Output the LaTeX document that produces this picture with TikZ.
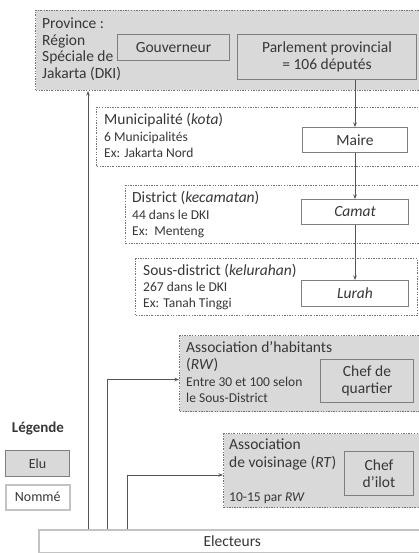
\documentclass[tikz,border=0pt]{standalone}
\usepackage{fontspec}
\setmainfont{Carlito}
\usetikzlibrary{arrows.meta}
\definecolor{elugray}{RGB}{217,217,217}
\definecolor{bordgray}{RGB}{127,127,127}
\definecolor{dotgray}{RGB}{115,115,115}
\definecolor{palegray}{RGB}{195,195,195}
\definecolor{flechegray}{RGB}{85,85,85}
\definecolor{txtgray}{RGB}{55,55,55}
\tikzset{
  zone/.style={draw=dotgray, line width=1pt, dash pattern=on 1.8pt off 1.4pt on 0.7pt off 1.4pt,
    anchor=north west, inner sep=0pt},
  elu/.style={draw=bordgray, fill=elugray, line width=1pt, anchor=north west, inner sep=0pt,
    align=center, font=\fontsize{15.5}{17}\selectfont},
  nomme/.style={draw=bordgray, fill=white, line width=1pt, anchor=north west, inner sep=0pt,
    align=center, font=\fontsize{15.5}{17}\selectfont},
  titre/.style={anchor=base west, inner sep=0pt, font=\fontsize{15.5}{17}\selectfont},
  detail/.style={anchor=base west, inner sep=0pt, font=\fontsize{13.5}{16}\selectfont},
  fleche/.style={draw=flechegray, line width=0.8pt, -{Stealth[length=4.5pt,width=3.5pt]}}
}
\begin{document}
\begin{tikzpicture}[x=1pt, y=-1pt, text=txtgray]
\useasboundingbox (0,0) rectangle (419,553);
%% province
\node[zone, fill=elugray, minimum width=390pt, minimum height=80pt] (prov) at (35,10) {};
\node[titre] (prov1) at (42,29) {Province :};
\node[titre] (prov2) at (42,45.5) {Région};
\node[titre] (prov3) at (42,62) {Spéciale de};
\node[titre] (prov4) at (42,78.5) {Jakarta (DKI)};
\node[elu, minimum width=112pt, minimum height=26pt] (gouv) at (117,34) {Gouverneur};
\node[elu, minimum width=179pt, minimum height=45pt] (parl) at (237,34) {Parlement provincial\\= 106 députés};
%% municipalite
\node[zone, minimum width=329pt, minimum height=59pt] (kota) at (96,107) {};
\node[titre] (kota1) at (104,125) {Municipalité (\textit{kota})};
\node[detail] (kota2) at (104,142) {6 Municipalités};
\node[detail] (kota3) at (104,158) {Ex: Jakarta Nord};
\node[nomme, minimum width=105pt, minimum height=25pt] (maire) at (302,127) {Maire};
%% district
\node[zone, minimum width=300pt, minimum height=58pt] (kec) at (125,185) {};
\node[titre] (kec1) at (132,203) {District (\textit{kecamatan})};
\node[detail] (kec2) at (132,219) {44 dans le DKI};
\node[detail] (kec3) at (132,235) {Ex:\ \ Menteng};
\node[nomme, minimum width=107pt, minimum height=25pt] (camat) at (301,199) {\textit{Camat}};
%% sous-district
\node[zone, minimum width=282pt, minimum height=57pt] (kel) at (135,258) {};
\node[titre] (kel1) at (143,275) {Sous-district (\textit{kelurahan})};
\node[detail] (kel2) at (143,291) {267 dans le DKI};
\node[detail] (kel3) at (143,307) {Ex: Tanah Tinggi};
\node[nomme, minimum width=107pt, minimum height=26pt] (lurah) at (301,280) {\textit{Lurah}};
%% RW
\node[zone, fill=elugray, minimum width=246pt, minimum height=76pt] (rw) at (179,335) {};
\node[titre] (rw1) at (186,352) {Association d’habitants};
\node[titre] (rw2) at (186,369) {(\textit{RW})};
\node[detail] (rw3) at (186,386) {Entre 30 et 100 selon};
\node[detail] (rw4) at (186,402) {le Sous-District};
\node[elu, minimum width=93pt, minimum height=43pt] (quartier) at (320,359) {Chef de\\quartier};
%% RT
\node[zone, fill=elugray, minimum width=202pt, minimum height=74pt] (rt) at (223,433) {};
\node[titre] (rt1) at (229,449) {Association};
\node[titre] (rt2) at (229,467) {de voisinage (\textit{RT})};
\node[detail] (rt3) at (229,501) {10-15 par \textit{RW}};
\node[elu, minimum width=69pt, minimum height=44pt] (ilot) at (344,451) {Chef\\d’ilot};
%% electeurs
\node[nomme, draw=palegray, line width=1.5pt, minimum width=387pt, minimum height=23pt] (elect) at (38,529) {Electeurs};
\coordinate (v1) at (88,529);
\coordinate (v2) at (107,529);
\coordinate (v3) at (127,529);
\draw[fleche] (v1) -- (v1 |- prov.south);
\draw[fleche] (v2) |- ([yshift=-6pt]rw.west);
\draw[fleche] (v3) |- ([yshift=-4.5pt]rt.west);
\draw[fleche] (parl.south -| maire.north) -- (maire.north);
\draw[fleche] (maire.south) -- (camat.north);
\draw[fleche] (camat.south) -- (lurah.north);
%% legende
\node[font=\fontsize{15}{17}\selectfont\bfseries] (leg) at (38,429) {Légende};
\node[elu, minimum width=64pt, minimum height=26pt, font=\fontsize{14}{16}\selectfont] (legelu) at (5,450) {Elu};
\node[nomme, draw=palegray, line width=1.5pt, minimum width=64pt, minimum height=25pt, font=\fontsize{14}{16}\selectfont] (legnom) at (5,484) {Nommé};
\end{tikzpicture}
\end{document}
